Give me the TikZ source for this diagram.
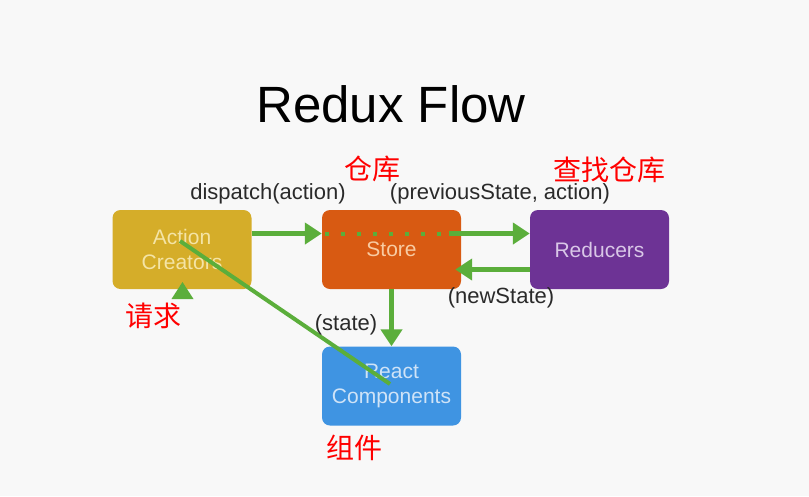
\documentclass[tikz,border=0pt]{standalone}
\usepackage{fontspec}
\setmainfont{Liberation Sans}
\newfontfamily\cjk{Noto Sans CJK SC}
\usetikzlibrary{arrows.meta}
\definecolor{bg}{HTML}{F8F8F8}
\definecolor{acfill}{HTML}{D5AD29}
\definecolor{acText}{HTML}{F4E4A6}
\definecolor{stfill}{HTML}{D85A12}
\definecolor{stText}{HTML}{F8CBA2}
\definecolor{rdfill}{HTML}{6D3395}
\definecolor{rdText}{HTML}{D9C7E7}
\definecolor{rcfill}{HTML}{3F94E2}
\definecolor{rcText}{HTML}{CFE3F7}
\definecolor{flow}{HTML}{5BAE3B}
\definecolor{lbl}{HTML}{2A2A2A}
\tikzset{
  box/.style={rounded corners=8pt, minimum width=139pt, minimum height=79pt,
    inner sep=0pt, align=center, font=\fontsize{21}{25}\selectfont},
  arr/.style={draw=flow, line width=5pt, -{Triangle[width=21pt,length=17pt]}},
  lab/.style={anchor=base, text=lbl, font=\fontsize{22}{26}\selectfont, inner sep=0pt},
  note/.style={text=red, font=\cjk\fontsize{28}{32}\selectfont, inner sep=0pt},
}
\begin{document}
\begin{tikzpicture}[x=1pt,y=-1pt]
\fill[bg] (0,0) rectangle (809,496);
\useasboundingbox (0,0) rectangle (809,496);
\node[anchor=base, inner sep=0pt, font=\fontsize{51}{56}\selectfont] (title) at (391,122) {Redux Flow};
\node[box, fill=acfill, text=acText] (ac) at (182,249.5) {Action\\Creators};
\node[box, fill=stfill, text=stText] (store) at (391.5,249.5) {Store};
\node[box, fill=rdfill, text=rdText] (red) at (599.5,249.5) {Reducers};
\node[box, fill=rcfill, text=rcText] (react) at (391.5,386) {React\\Components};
% arrows
\draw[arr] ([yshift=16pt]ac.east) -- ([yshift=16pt]store.west);
\draw[flow, line width=4pt, dash pattern=on 4pt off 12pt] ([yshift=16pt,xshift=3pt]store.west) -- ([yshift=16pt,xshift=-14pt]store.east);
\draw[arr] ([yshift=16pt,xshift=-12pt]store.east) -- ([yshift=16pt]red.west);
\draw[arr] ([yshift=-20pt]red.west) -- ([yshift=-20pt,xshift=-6pt]store.east);
\draw[arr] (store.south) -- (react.north);
\coordinate (diagA) at (180,241);
\coordinate (diagB) at (390,384);
\draw[flow, line width=4pt] (diagA) -- (diagB);
\coordinate (tipA) at (182.5,282);
\fill[flow] (tipA) -- ++(11,17) -- ++(-22,0) -- cycle;
% labels
\node[lab] (l1) at (268,199) {dispatch(action)};
\node[lab] (l2) at (500,199) {(previousState, action)};
\node[lab] (l3) at (501,303) {(newState)};
\node[lab] (l4) at (346,330) {(state)};
% red notes
\node[note] (n1) at (372,169) {仓库};
\node[note] (n2) at (609,170) {查找仓库};
\node[note] (n3) at (153,316) {请求};
\node[note] (n4) at (354,448) {组件};
\end{tikzpicture}
\end{document}
